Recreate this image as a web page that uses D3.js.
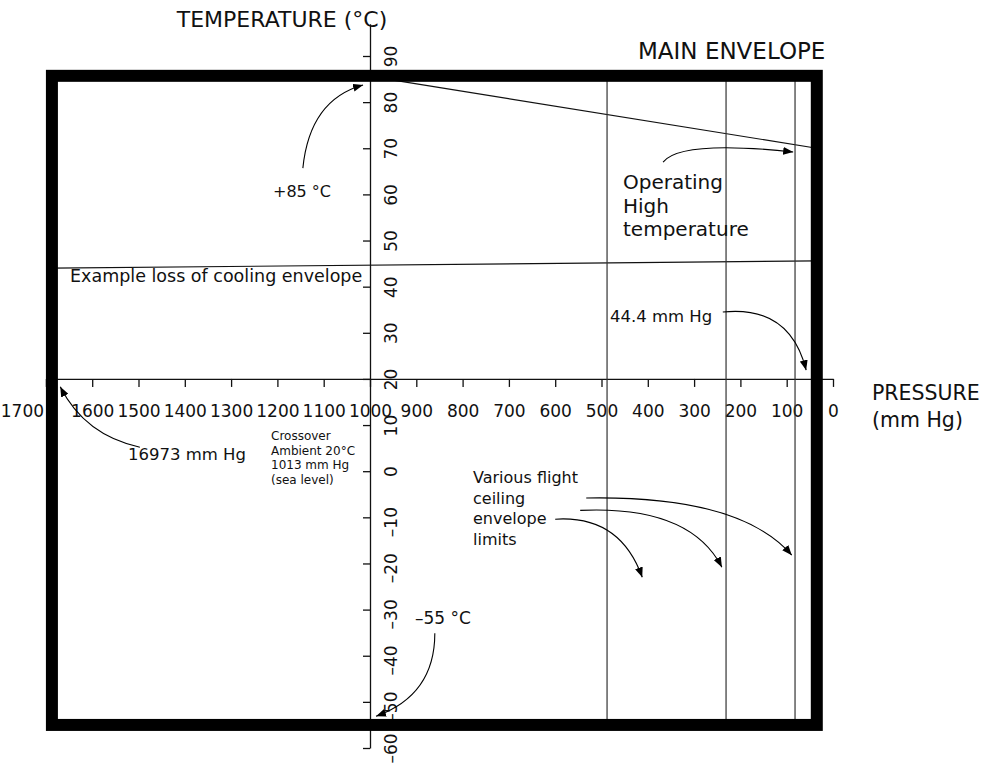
<!DOCTYPE html>
<html><head><meta charset="utf-8">
<script src="https://cdn.jsdelivr.net/npm/d3@7"></script>
<style>body{margin:0;background:#fff}svg{display:block;font-family:"DejaVu Sans",sans-serif}</style>
</head><body><svg id="c" width="988" height="765"></svg>
<script>
// ---- data ----
const pressureTicks = [0,100,200,300,400,500,600,700,800,900,1000,1100,1200,1300,1400,1500,1600,1700];
const temperatureTicks = [-60,-50,-40,-30,-20,-10,0,10,20,30,40,50,60,70,80,90];
const pressureDomain = [0, 1700];
const temperatureDomain = [-60, 97];
const frameP = [1687, 35];          // main envelope pressure limits (mm Hg)
const frameT = [85.7, -55];         // main envelope temperature limits (°C)
const ceilingP = [488, 231, 82];    // various flight ceiling limits (mm Hg)
const highTempLine = [[1000, 85.6], [35, 70]];
const coolingLine = [[1687, 44.0], [35, 45.6]];
const arrow85 = [[1145, 65.7], [1130, 80.5], [1015, 83.7]];
const arrowHigh = [[367, 67.0], [330, 71.8], [86, 69.2]];
const arrow444 = [[238, 34.5], [93, 36.0], [58, 21.9]];
const arrow16973 = [[1497, 5.2], [1616, 7.8], [1669, 18.3]];
const arrow55 = [[860, -35.1], [860, -48.5], [987, -53.1]];
const ceilingArrowA = [[533, -5.8], [201, -5.2], [89, -18.2]];
const ceilingArrowB = [[546, -8.5], [309, -7.4], [240, -20.8]];
const ceilingArrowC = [[600, -10.4], [460, -9.5], [412, -23.0]];

// ---- scales ----
const svg = d3.select("#c");
const x = d3.scaleLinear().domain(pressureDomain).range([833, 45.9]);
const y = d3.scaleLinear().domain(temperatureDomain).range([748, 23.7]);
const ink = "#111";

const defs = svg.append("defs");
defs.append("marker").attr("id","ah").attr("viewBox","0 0 10 8")
  .attr("refX",10).attr("refY",4).attr("markerWidth",10).attr("markerHeight",8)
  .attr("markerUnits","userSpaceOnUse").attr("orient","auto")
  .append("path").attr("d","M0,0L10,4L0,8Z").attr("fill","#000");

// ---- axes ----
const xAxis = svg.append("g").attr("transform", `translate(0,${y(20)})`)
  .call(d3.axisBottom(x).tickValues(pressureTicks).tickSize(8).tickSizeOuter(0).tickFormat(d3.format("d")));
xAxis.select(".domain").attr("stroke", ink).attr("stroke-width", 1.3);
xAxis.selectAll(".tick line").attr("stroke", ink).attr("stroke-width", 1.3);
xAxis.selectAll(".tick text").attr("y", 38).attr("dy", 0)
  .attr("dx", d => d === 1700 ? -24 : 0)
  .attr("font-size", 17).attr("font-family", "DejaVu Sans").attr("fill", ink);

const yAxis = svg.append("g").attr("transform", `translate(${x(1000)},0)`)
  .call(d3.axisLeft(y).tickValues(temperatureTicks).tickSize(7).tickSizeOuter(0)
    .tickFormat(d => d < 0 ? "\u2013" + Math.abs(d) : String(d)));
yAxis.select(".domain").attr("stroke", ink).attr("stroke-width", 1.3);
yAxis.selectAll(".tick line").attr("stroke", ink).attr("stroke-width", 1.3);
yAxis.selectAll(".tick text")
  .attr("x", null).attr("dy", null)
  .attr("transform", "translate(27,0) rotate(-90)")
  .attr("text-anchor", "middle")
  .attr("dx", d => (d < 0 && d > -60) ? "-0.25em" : 0)
  .attr("font-size", 17).attr("font-family", "DejaVu Sans").attr("fill", ink);

// ---- envelope lines ----
const line = d3.line().x(d => x(d[0])).y(d => y(d[1]));
svg.append("path").attr("d", line(coolingLine)).attr("fill","none").attr("stroke", ink).attr("stroke-width", 1.2);
svg.append("path").attr("d", line(highTempLine)).attr("fill","none").attr("stroke", ink).attr("stroke-width", 1.2);
svg.selectAll("line.ceil").data(ceilingP).join("line").attr("class","ceil")
  .attr("x1", d => x(d)).attr("x2", d => x(d))
  .attr("y1", y(frameT[0])).attr("y2", y(frameT[1]))
  .attr("stroke", "#333").attr("stroke-width", 1.2);

// ---- main envelope frame ----
svg.append("rect")
  .attr("x", x(frameP[0])).attr("y", y(frameT[0]))
  .attr("width", x(frameP[1]) - x(frameP[0]))
  .attr("height", y(frameT[1]) - y(frameT[0]))
  .attr("fill", "none").attr("stroke", "#000").attr("stroke-width", 12);

// ---- annotation arrows ----
const curve = pts => {
  const p = pts.map(d => [x(d[0]), y(d[1])]);
  return `M${p[0][0]},${p[0][1]}Q${p[1][0]},${p[1][1]} ${p[2][0]},${p[2][1]}`;
};
[arrow85, arrowHigh, arrow444, arrow16973, arrow55, ceilingArrowA, ceilingArrowB, ceilingArrowC]
  .forEach(a => svg.append("path").attr("d", curve(a)).attr("fill","none")
    .attr("stroke","#000").attr("stroke-width",1.1).attr("marker-end","url(#ah)"));

// ---- texts ----
function txt(lines, x0, y0, size, lh, anchor) {
  const t = svg.append("text").attr("x", x0).attr("y", y0).attr("font-size", size)
    .attr("fill", ink).attr("text-anchor", anchor || "start");
  lines.forEach((s, i) => t.append("tspan").attr("x", x0).attr("dy", i === 0 ? 0 : lh).text(s));
}
txt(["TEMPERATURE (\u00B0C)"], 282, 27, 22, 0, "middle");
txt(["MAIN ENVELOPE"], 638, 59, 23, 0);
txt(["PRESSURE", "(mm Hg)"], 872, 400, 20.5, 27);
txt(["+85 \u00B0C"], 273, 197, 16, 0);
txt(["Operating", "High", "temperature"], 623, 189, 20, 23.5);
txt(["Example loss of cooling envelope"], 70, 282, 17.5, 0);
txt(["44.4 mm Hg"], 610, 322, 16.5, 0);
txt(["16973 mm Hg"], 128, 460, 16.5, 0);
txt(["Crossover", "Ambient 20\u00B0C", "1013 mm Hg", "(sea level)"], 271, 440, 12, 14.6);
txt(["Various flight", "ceiling", "envelope", "limits"], 473, 483, 16, 20.7);
txt(["\u201355 \u00B0C"], 415, 624, 17, 0);
</script></body></html>
